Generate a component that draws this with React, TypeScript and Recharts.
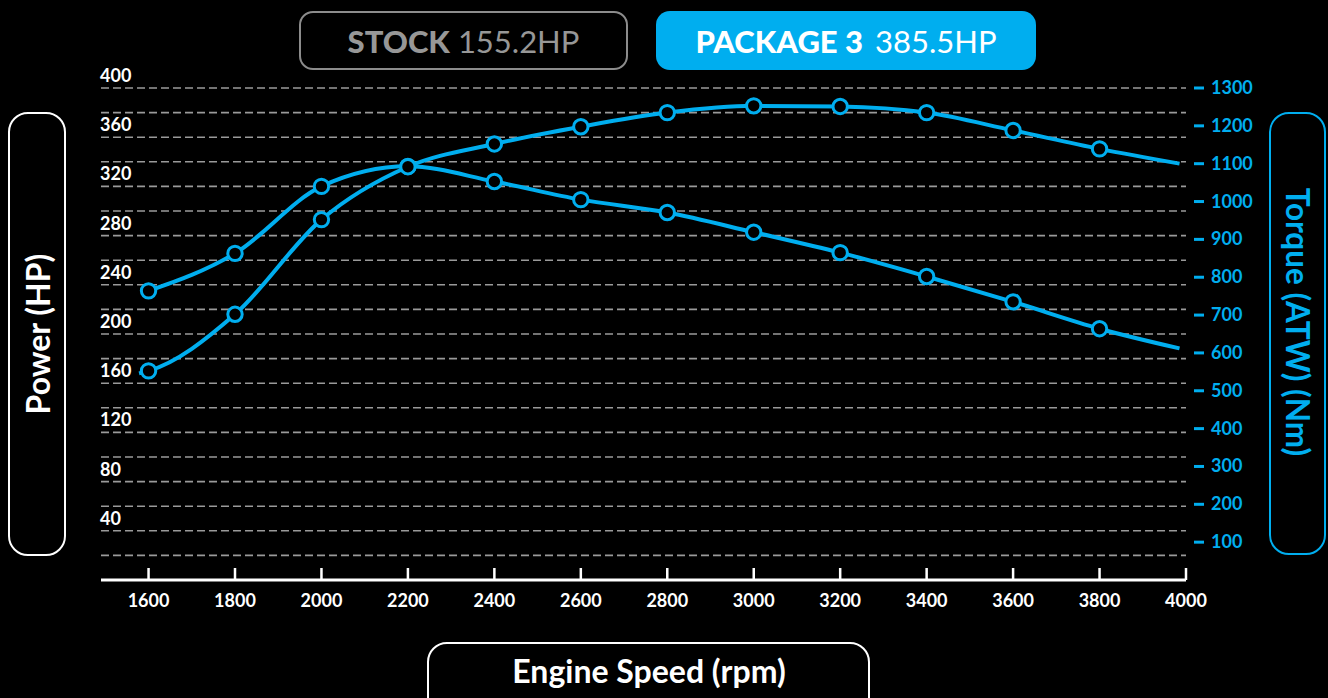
import React from 'react';
import { LineChart, Line, XAxis, YAxis, ReferenceLine } from 'recharts';

const rpm = [1578, 1600, 1800, 2000, 2200, 2400, 2600, 2800, 3000, 3200, 3400, 3600, 3800, 3985];
const powerHp = [168, 170, 216, 293, 336, 354.5, 368.5, 380, 385.5, 385, 380, 365.5, 350.5, 338.5];
const torqueNm = [null, 764, 863, 1040, 1093, 1053, 1005, 971, 919, 865, 802, 735, 664, 612];

const xTicks = [1600, 1800, 2000, 2200, 2400, 2600, 2800, 3000, 3200, 3400, 3600, 3800, 4000];
const hpTicks = [40, 80, 120, 160, 200, 240, 280, 320, 360, 400];
const nmTicks = [100, 200, 300, 400, 500, 600, 700, 800, 900, 1000, 1100, 1200, 1300];
const gridValues = [20, 40, 60, 80, 100, 120, 140, 160, 180, 200, 220, 240, 260, 280, 300, 320, 340, 360, 380, 400];

const data = rpm.map((r, i) => ({ rpm: r, power: powerHp[i], torque: torqueNm[i] }));

const BLUE = '#00AEEF';
const FONT = 'Lato, "Open Sans", sans-serif';

const Dot = (props: any) => {
  const { cx, cy, payload, value } = props;
  if (value == null || payload.rpm % 200 !== 0 || cx == null || cy == null) return <g />;
  return <circle cx={cx} cy={cy} r={7.2} fill="#000" stroke={BLUE} strokeWidth={3} />;
};

const LeftTick = (props: any) => {
  const { y, payload } = props;
  return (
    <text x={100} y={y - 6} fill="#fff" fontSize={18} fontWeight={700} fontFamily={FONT} textAnchor="start">
      {payload.value}
    </text>
  );
};

const RightTick = (props: any) => {
  const { y, payload } = props;
  return (
    <g>
      <line x1={1194} x2={1204} y1={y} y2={y} stroke={BLUE} strokeWidth={3} />
      <text x={1211} y={y} dy={6} fill={BLUE} fontSize={18} fontWeight={700} fontFamily={FONT} textAnchor="start">
        {payload.value}
      </text>
    </g>
  );
};

const BottomTick = (props: any) => {
  const { x, payload } = props;
  return (
    <g>
      <line x1={x} x2={x} y1={568} y2={580} stroke="#fff" strokeWidth={2.5} />
      <text x={x} y={606.5} fill="#fff" fontSize={18} fontWeight={700} fontFamily={FONT} textAnchor="middle">
        {payload.value}
      </text>
    </g>
  );
};

export default function App() {
  return (
    <div style={{ position: 'absolute', left: 0, top: 0, width: 1328, height: 698, background: '#000', overflow: 'hidden', fontFamily: FONT }}>
      <div style={{ position: 'absolute', left: 0, top: 0 }}>
        <LineChart width={1328} height={698} data={data} margin={{ top: 88, right: 102, bottom: 88, left: 61 }}>
          <XAxis
            dataKey="rpm"
            type="number"
            domain={[1490, 4000]}
            ticks={xTicks}
            height={30}
            axisLine={{ stroke: '#fff', strokeWidth: 3 }}
            tickLine={false}
            tick={<BottomTick />}
            interval={0}
          />
          <YAxis
            yAxisId="hp"
            orientation="left"
            width={40}
            domain={[0, 400]}
            ticks={hpTicks}
            axisLine={false}
            tickLine={false}
            tick={<LeftTick />}
            interval={0}
          />
          <YAxis
            yAxisId="nm"
            orientation="right"
            width={40}
            domain={[0, 1300]}
            ticks={nmTicks}
            axisLine={false}
            tickLine={false}
            tick={<RightTick />}
            interval={0}
          />
          {gridValues.map((v) => (
            <ReferenceLine key={v} yAxisId="hp" y={v} stroke="#9a9a9a" strokeWidth={1.6} strokeDasharray="8 4" />
          ))}
          <Line
            yAxisId="nm"
            type="monotone"
            dataKey="torque"
            stroke={BLUE}
            strokeWidth={4}
            dot={<Dot />}
            activeDot={false}
            isAnimationActive={false}
          />
          <Line
            yAxisId="hp"
            type="monotone"
            dataKey="power"
            stroke={BLUE}
            strokeWidth={4}
            dot={<Dot />}
            activeDot={false}
            isAnimationActive={false}
          />
        </LineChart>
      </div>

      <div style={{ position: 'absolute', left: 299, top: 11, width: 329, height: 59, boxSizing: 'border-box', border: '2px solid #8c8c8c', borderRadius: 14, display: 'flex', alignItems: 'center', justifyContent: 'center', color: '#979797', fontSize: 31, whiteSpace: 'nowrap' }}>
        <span style={{ fontWeight: 900 }}>STOCK</span>
        <span style={{ fontWeight: 400, marginLeft: 8 }}>155.2HP</span>
      </div>
      <div style={{ position: 'absolute', left: 656, top: 11, width: 380, height: 59, boxSizing: 'border-box', background: BLUE, borderRadius: 14, display: 'flex', alignItems: 'center', justifyContent: 'center', color: '#fff', fontSize: 31, whiteSpace: 'nowrap' }}>
        <span style={{ fontWeight: 900 }}>PACKAGE 3</span>
        <span style={{ fontWeight: 400, marginLeft: 12 }}>385.5HP</span>
      </div>

      <div style={{ position: 'absolute', left: 8, top: 112, width: 58, height: 444, boxSizing: 'border-box', border: '2.5px solid #fff', borderRadius: 20 }} />
      <div style={{ position: 'absolute', left: 37, top: 334, transform: 'translate(-50%, -50%) rotate(-90deg)', color: '#fff', fontSize: 32, fontWeight: 700, whiteSpace: 'nowrap' }}>
        Power (HP)
      </div>

      <div style={{ position: 'absolute', left: 1269, top: 112, width: 57, height: 443, boxSizing: 'border-box', border: '2.5px solid ' + BLUE, borderRadius: 20 }} />
      <div style={{ position: 'absolute', left: 1298, top: 322, transform: 'translate(-50%, -50%) rotate(90deg)', color: BLUE, fontSize: 31.5, fontWeight: 700, whiteSpace: 'nowrap' }}>
        Torque (ATW) (Nm)
      </div>

      <div style={{ position: 'absolute', left: 427, top: 642, width: 443, height: 80, boxSizing: 'border-box', border: '2.5px solid #fff', borderRadius: 20 }} />
      <div style={{ position: 'absolute', left: 649, top: 670, transform: 'translate(-50%, -50%)', color: '#fff', fontSize: 32, fontWeight: 700, whiteSpace: 'nowrap' }}>
        Engine Speed (rpm)
      </div>
    </div>
  );
}
